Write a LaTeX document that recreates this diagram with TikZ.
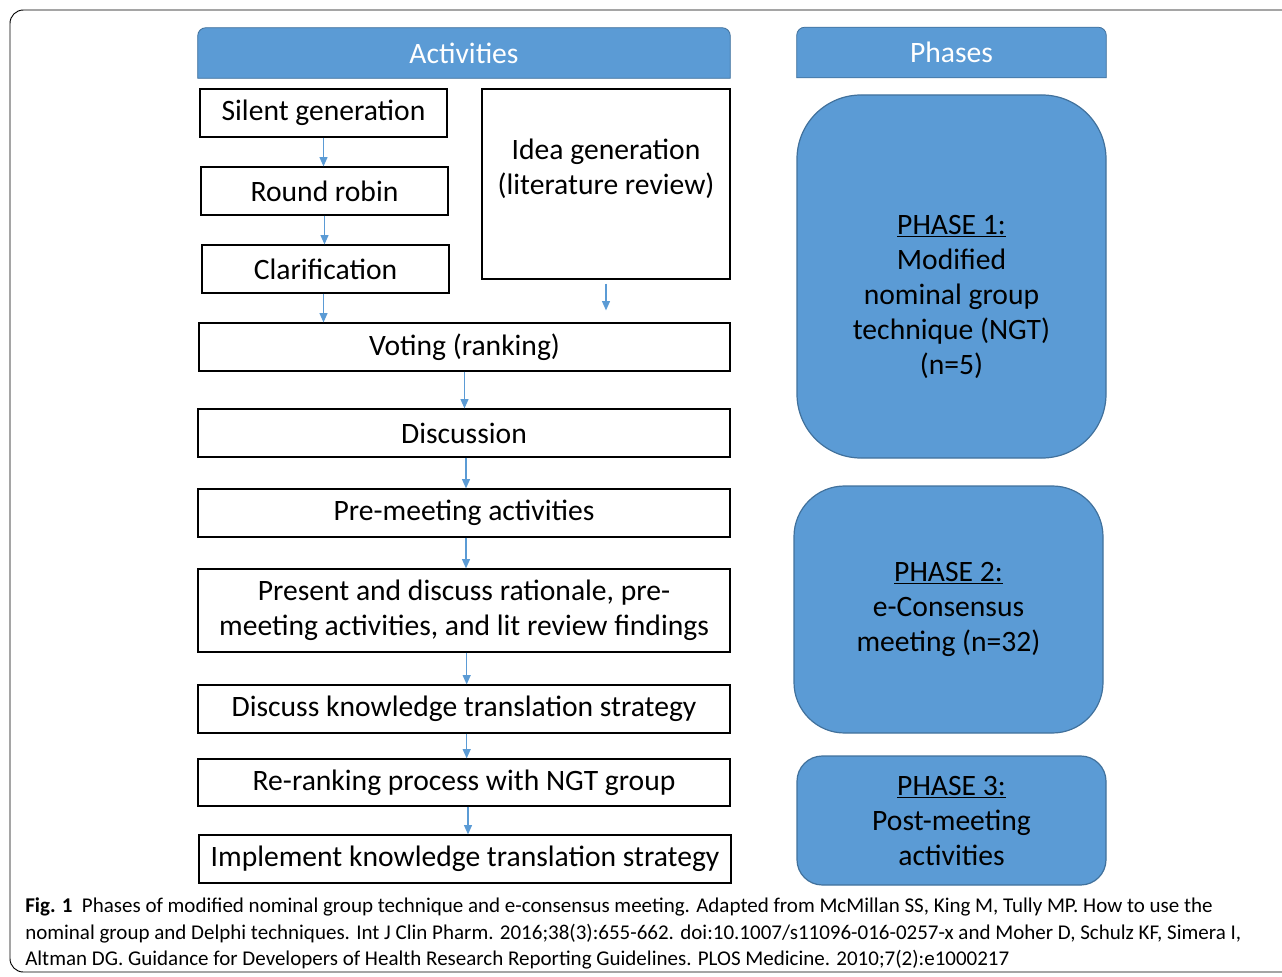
\documentclass[tikz,border=0pt]{standalone}
\usepackage{fontspec}
\setmainfont{Carlito}
\usepackage{xcolor}
\usetikzlibrary{arrows.meta,positioning,backgrounds}
\definecolor{phfill}{HTML}{5B9BD5}
\definecolor{phline}{HTML}{41719C}

\begin{document}
\begin{tikzpicture}[
  x=0.75pt, y=-0.75pt,
  every node/.style={font=\fontsize{22.2}{26.25}\selectfont, inner sep=0pt},
  act/.style={draw, line width=0.9pt, align=center, minimum height=36pt},
  hdr/.style={text=white, minimum height=37.5pt},
  phase/.style={draw=phline, line width=0.9pt, fill=phfill, align=center, minimum width=231.75pt},
  arr/.style={-{Triangle[length=7pt,width=6pt]}, draw=phfill, line width=0.9pt},
  capt/.style={anchor=base west, font=\fontsize{15.75}{19}\selectfont}
]
\useasboundingbox (0,0) rectangle (1282,977);
\draw[line width=0.7pt, rounded corners=10pt] (1300,10) -- (10,10) -- (10,972) -- (1300,972);

% column headers
\node[hdr, minimum width=399pt] (acthdr) at (464,53) {\raisebox{-2pt}{Activities}};
\node[hdr, minimum width=231.75pt] (phhdr) at (951.5,52.5) {\raisebox{-2pt}{Phases}};
\begin{scope}[on background layer]
\fill[phfill, draw=phline, line width=0.6pt] (acthdr.south west) [rounded corners=6pt] -- (acthdr.north west) -- (acthdr.north east) [sharp corners] -- (acthdr.south east) -- cycle;
\fill[phfill, draw=phline, line width=0.6pt] (phhdr.south west) [rounded corners=6pt] -- (phhdr.north west) -- (phhdr.north east) [sharp corners] -- (phhdr.south east) -- cycle;
\end{scope}

% activities
\node[act, minimum width=185.25pt] (silent) at (323.5,113) {Silent generation};
\node[act, minimum width=185.25pt] (robin) at (324.5,191) {Round robin};
\node[act, minimum width=185.25pt] (clarif) at (325.5,269) {Clarification};
\node[act, minimum width=186pt, minimum height=142.5pt] (idea) at (606,184) {Idea generation\\(literature review)\\\mbox{}};
\node[act, minimum width=398.25pt] (voting) at (464.5,347) {Voting (ranking)};
\node[act, minimum width=399pt] (discuss) at (464,433) {Discussion};
\node[act, minimum width=399pt] (premeet) at (464,513) {Pre-meeting activities};
\node[act, minimum width=399pt, minimum height=62.25pt] (present) at (464,610.5) {Present and discuss rationale, pre-\\meeting activities, and lit review findings};
\node[act, minimum width=399pt] (ktdisc) at (464,709) {Discuss knowledge translation strategy};
\node[act, minimum width=399pt, minimum height=35.25pt] (rerank) at (464,782.5) {Re-ranking process with NGT group};
\node[act, minimum width=399pt] (ktimpl) at (465,859) {Implement knowledge translation strategy};

\draw[arr] (silent) -- (silent |- robin.north);
\draw[arr] (robin) -- (robin |- clarif.north);
\draw[arr] (clarif.south) ++(-2,0) -- ([xshift=-1.5pt]clarif.south |- voting.north);
\draw[arr, shorten <=3pt, shorten >=9pt] (idea) -- (idea |- voting.north);
\draw[arr] (voting) -- (voting |- discuss.north);
\draw[arr] ([xshift=1.5pt]discuss.south) -- ([xshift=1.5pt]discuss.south |- premeet.north);
\draw[arr] ([xshift=1.5pt]premeet.south) -- ([xshift=1.5pt]premeet.south |- present.north);
\draw[arr] ([xshift=2pt]present.south) -- ([xshift=2pt]present.south |- ktdisc.north);
\draw[arr] ([xshift=2pt]ktdisc.south) -- ([xshift=2pt]ktdisc.south |- rerank.north);
\draw[arr] ([xshift=3pt]rerank.south) -- ([xshift=3pt]rerank.south |- ktimpl.north);

% phases
\node[phase, minimum height=272.25pt, rounded corners=48pt] (ph1) at (951.5,276.5) {\strut\\\underline{PHASE 1:}\\Modified\\nominal group\\technique (NGT)\\(n=5)};
\node[phase, minimum height=185.25pt, rounded corners=38pt] (ph2) at (948.5,609.5) {\underline{PHASE 2:}\\e-Consensus\\meeting (n=32)};
\node[phase, minimum height=96.75pt, rounded corners=19pt] (ph3) at (951.5,820.5) {\underline{PHASE 3:}\\Post-meeting\\activities};

% caption
\node[capt] (cap1) at (25,912) {\textbf{Fig. 1}\hspace{7pt}Phases of modified nominal group technique and e-consensus meeting. Adapted from McMillan SS, King M, Tully MP. How to use the};
\node[capt] (cap2) at (25,939) {nominal group and Delphi techniques. Int J Clin Pharm. 2016;38(3):655-662. doi:10.1007/s11096-016-0257-x and Moher D, Schulz KF, Simera I,};
\node[capt] (cap3) at (25,965) {Altman DG. Guidance for Developers of Health Research Reporting Guidelines. PLOS Medicine. 2010;7(2):e1000217};
\end{tikzpicture}
\end{document}
